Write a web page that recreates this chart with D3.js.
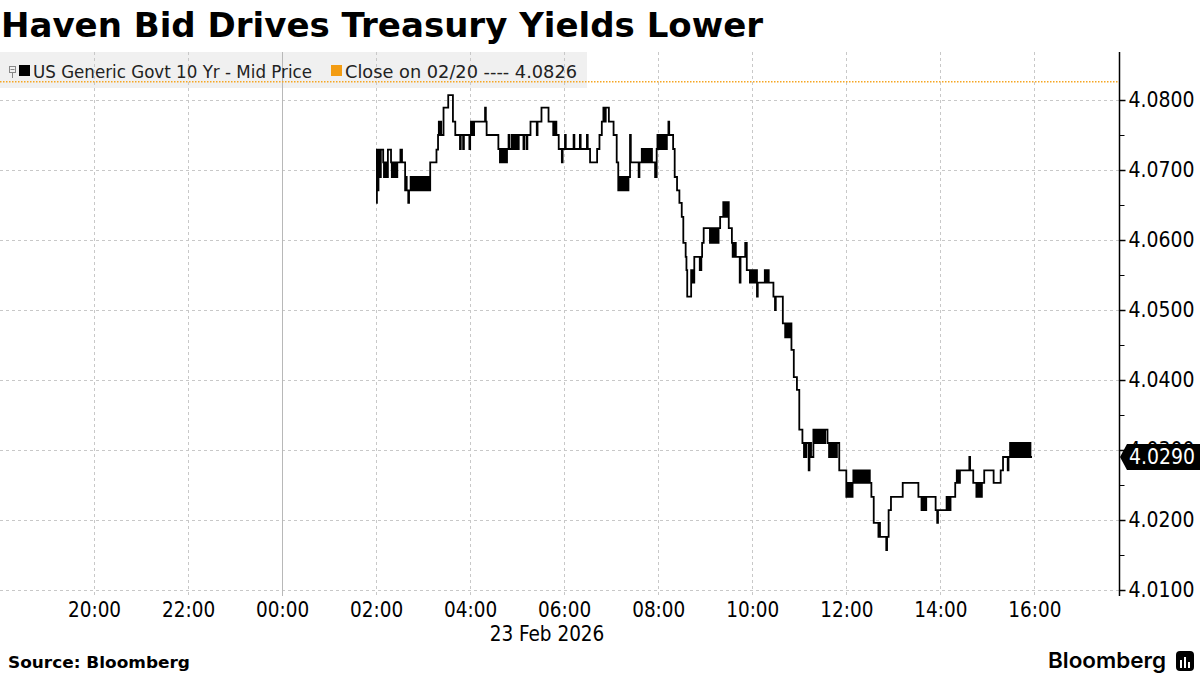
<!DOCTYPE html>
<html><head><meta charset="utf-8">
<script src="https://cdn.jsdelivr.net/npm/d3@7"></script>
<style>body{margin:0;background:#fff}svg{display:block}</style>
</head><body><svg id="c" width="1200" height="675"></svg>
<script>
const titleText = "Haven Bid Drives Treasury Yields Lower";
const seriesName = "US Generic Govt 10 Yr - Mid Price";
const closeLabel = "Close on 02/20 ---- 4.0826";
const closeValue = 4.0826;
const lastValue = 4.0290;
const sourceText = "Source: Bloomberg";
const dateLabel = "23 Feb 2026";
const yTicks = [4.01, 4.02, 4.03, 4.04, 4.05, 4.06, 4.07, 4.08];
const yMinorTicks = [4.015, 4.025, 4.035, 4.045, 4.055, 4.065, 4.075];
const xTickLabels = ["2026-02-22 20:00","2026-02-22 22:00","2026-02-23 00:00","2026-02-23 02:00","2026-02-23 04:00","2026-02-23 06:00","2026-02-23 08:00","2026-02-23 10:00","2026-02-23 12:00","2026-02-23 14:00","2026-02-23 16:00"];
const xDomain = ["2026-02-22 18:00", "2026-02-23 17:48"];

// times on 23 Feb 2026 and 10Y yield values
const times = ["02:00","02:01","02:02","02:03","02:05","02:06","02:09","02:10","02:11","02:12","02:13","02:14","02:15","02:19","02:20","02:21","02:22","02:23","02:24","02:25","02:26","02:27","02:31","02:33","02:37","02:38","02:39","02:41","02:42","02:44","02:45","02:47","02:48","02:50","02:51","02:53","02:55","02:57","02:58","03:00","03:02","03:04","03:05","03:07","03:08","03:09","03:17","03:19","03:20","03:21","03:22","03:23","03:26","03:32","03:38","03:41","03:47","03:48","03:51","03:52","03:59","04:00","04:01","04:02","04:03","04:04","04:05","04:19","04:20","04:21","04:36","04:38","04:39","04:40","04:42","04:43","04:45","04:46","04:47","04:49","04:50","04:53","04:54","04:56","04:57","04:59","05:00","05:02","05:08","05:09","05:12","05:13","05:17","05:25","05:26","05:31","05:40","05:46","05:47","05:48","05:49","05:50","05:53","05:57","05:58","06:01","06:02","06:12","06:13","06:20","06:21","06:29","06:30","06:33","06:42","06:45","06:48","06:50","06:52","06:53","06:57","07:03","07:07","07:09","07:10","07:11","07:13","07:14","07:16","07:17","07:19","07:20","07:22","07:24","07:25","07:35","07:36","07:39","07:40","07:42","07:43","07:45","07:46","07:48","07:49","07:51","07:52","07:56","07:58","07:59","08:00","08:02","08:03","08:05","08:06","08:08","08:09","08:11","08:13","08:14","08:19","08:21","08:24","08:27","08:30","08:32","08:35","08:36","08:37","08:42","08:43","08:44","08:45","08:46","08:53","08:55","08:56","08:58","09:06","09:07","09:09","09:10","09:12","09:13","09:15","09:17","09:19","09:23","09:25","09:26","09:28","09:29","09:30","09:34","09:35","09:36","09:37","09:38","09:39","09:44","09:45","09:51","09:53","09:57","09:58","10:00","10:01","10:03","10:04","10:06","10:07","10:16","10:17","10:18","10:19","10:20","10:21","10:27","10:29","10:30","10:39","10:42","10:43","10:44","10:46","10:47","10:48","10:50","10:53","10:57","11:00","11:04","11:06","11:07","11:08","11:09","11:12","11:13","11:15","11:18","11:19","11:21","11:22","11:24","11:26","11:27","11:29","11:30","11:32","11:33","11:36","11:38","11:39","11:41","11:42","11:44","11:45","11:47","11:48","11:51","12:00","12:01","12:02","12:03","12:04","12:05","12:06","12:08","12:09","12:11","12:13","12:14","12:16","12:18","12:20","12:22","12:24","12:26","12:28","12:30","12:32","12:35","12:41","12:42","12:43","12:51","12:52","12:54","12:57","13:12","13:32","13:36","13:37","13:38","13:40","13:41","13:42","13:54","13:56","13:57","14:08","14:09","14:11","14:12","14:13","14:19","14:21","14:22","14:23","14:24","14:25","14:37","14:38","14:42","14:46","14:47","14:49","14:50","14:52","14:53","14:56","15:08","15:17","15:20","15:26","15:27","15:29","15:30","15:31","15:33","15:34","15:36","15:38","15:40","15:42","15:44","15:46","15:48","15:50","15:52","15:53","15:55","15:57"];
const values = [4.0653,4.0729,4.0671,4.0729,4.0690,4.0729,4.0711,4.0690,4.0711,4.0690,4.0711,4.0690,4.0729,4.0711,4.0690,4.0711,4.0690,4.0711,4.0690,4.0711,4.0690,4.0711,4.0729,4.0711,4.0671,4.0690,4.0671,4.0653,4.0671,4.0690,4.0671,4.0690,4.0671,4.0690,4.0671,4.0690,4.0671,4.0690,4.0671,4.0690,4.0671,4.0690,4.0671,4.0690,4.0671,4.0711,4.0729,4.0750,4.0769,4.0750,4.0769,4.0750,4.0789,4.0807,4.0769,4.0750,4.0730,4.0750,4.0730,4.0750,4.0730,4.0750,4.0769,4.0750,4.0769,4.0750,4.0769,4.0789,4.0769,4.0750,4.0730,4.0711,4.0730,4.0711,4.0730,4.0711,4.0730,4.0711,4.0730,4.0750,4.0730,4.0750,4.0730,4.0750,4.0730,4.0750,4.0730,4.0750,4.0730,4.0750,4.0730,4.0750,4.0769,4.0750,4.0769,4.0789,4.0769,4.0750,4.0769,4.0750,4.0769,4.0750,4.0730,4.0711,4.0730,4.0750,4.0730,4.0750,4.0730,4.0750,4.0730,4.0750,4.0730,4.0711,4.0730,4.0750,4.0769,4.0789,4.0769,4.0789,4.0769,4.0750,4.0711,4.0671,4.0690,4.0671,4.0690,4.0671,4.0690,4.0671,4.0690,4.0671,4.0690,4.0750,4.0711,4.0690,4.0711,4.0730,4.0711,4.0730,4.0711,4.0730,4.0711,4.0730,4.0711,4.0730,4.0711,4.0690,4.0730,4.0750,4.0730,4.0750,4.0730,4.0750,4.0730,4.0750,4.0730,4.0750,4.0769,4.0750,4.0730,4.0690,4.0671,4.0653,4.0633,4.0596,4.0576,4.0557,4.0519,4.0557,4.0539,4.0557,4.0539,4.0576,4.0557,4.0576,4.0596,4.0617,4.0596,4.0617,4.0596,4.0617,4.0596,4.0617,4.0596,4.0617,4.0633,4.0654,4.0633,4.0654,4.0633,4.0654,4.0617,4.0596,4.0576,4.0596,4.0576,4.0596,4.0576,4.0539,4.0576,4.0596,4.0557,4.0539,4.0557,4.0539,4.0557,4.0539,4.0557,4.0519,4.0539,4.0557,4.0539,4.0557,4.0539,4.0557,4.0539,4.0519,4.0500,4.0519,4.0481,4.0461,4.0481,4.0461,4.0481,4.0461,4.0481,4.0443,4.0404,4.0386,4.0329,4.0310,4.0290,4.0310,4.0290,4.0310,4.0271,4.0310,4.0290,4.0329,4.0310,4.0329,4.0310,4.0329,4.0310,4.0329,4.0310,4.0329,4.0310,4.0329,4.0310,4.0290,4.0310,4.0290,4.0310,4.0290,4.0310,4.0290,4.0310,4.0271,4.0233,4.0253,4.0233,4.0253,4.0233,4.0253,4.0233,4.0253,4.0271,4.0253,4.0271,4.0253,4.0271,4.0253,4.0271,4.0253,4.0271,4.0253,4.0271,4.0253,4.0233,4.0196,4.0176,4.0196,4.0176,4.0157,4.0176,4.0214,4.0233,4.0253,4.0233,4.0214,4.0233,4.0214,4.0233,4.0214,4.0233,4.0214,4.0196,4.0214,4.0233,4.0214,4.0233,4.0214,4.0233,4.0253,4.0271,4.0253,4.0271,4.0253,4.0271,4.0290,4.0271,4.0253,4.0233,4.0253,4.0233,4.0253,4.0233,4.0253,4.0271,4.0253,4.0271,4.0290,4.0271,4.0290,4.0310,4.0290,4.0310,4.0290,4.0310,4.0290,4.0310,4.0290,4.0310,4.0290,4.0310,4.0290,4.0310,4.0290,4.0310,4.0290,4.0290];

const parse = d3.timeParse("%Y-%m-%d %H:%M");
const data = times.map((t, i) => ({t: parse("2026-02-23 " + t), v: values[i]}));

const svg = d3.select("#c");
const FONT = "'DejaVu Sans Condensed','DejaVu Sans',sans-serif";
const plotRight = 1119;

const x = d3.scaleTime().domain(xDomain.map(parse)).range([0, plotRight]);
const y = d3.scaleLinear().domain([4.01, 4.08]).range([590, 100]);
const plotTop = 52, plotBottom = 596;

svg.append("rect").attr("width", 1200).attr("height", 675).attr("fill", "#fff");

// title
svg.append("text").attr("x", 1).attr("y", 37).text(titleText)
  .attr("font-family", "'DejaVu Sans',sans-serif").attr("font-weight", "bold")
  .attr("font-size", 34).attr("textLength", 762).attr("lengthAdjust", "spacingAndGlyphs").attr("fill", "#000");

// legend band
svg.append("rect").attr("x", 0).attr("y", plotTop).attr("width", 587).attr("height", 36).attr("fill", "#f0f0f0");

// gridlines
const grid = svg.append("g");
grid.selectAll("line.h").data(yTicks).join("line")
  .attr("x1", 0).attr("x2", plotRight).attr("y1", d => Math.round(y(d)) + 0.5).attr("y2", d => Math.round(y(d)) + 0.5)
  .attr("stroke", "#c8c8c8").attr("stroke-dasharray", "3,3").attr("stroke-width", 1);
grid.selectAll("line.v").data(xTickLabels.map(parse)).join("line")
  .attr("x1", d => Math.round(x(d)) + 0.5).attr("x2", d => Math.round(x(d)) + 0.5)
  .attr("y1", plotTop).attr("y2", plotBottom)
  .attr("stroke", d => d.getHours() === 0 ? "#b8b8b8" : "#c8c8c8")
  .attr("stroke-dasharray", d => d.getHours() === 0 ? null : "3,3").attr("stroke-width", 1);

// legend items
const lg = svg.append("g");
lg.append("rect").attr("x", 9.5).attr("y", 66.5).attr("width", 6).attr("height", 6).attr("fill", "none").attr("stroke", "#888");
lg.append("line").attr("x1", 10.5).attr("x2", 14.5).attr("y1", 69.5).attr("y2", 69.5).attr("stroke", "#888");
lg.append("line").attr("x1", 12.5).attr("x2", 12.5).attr("y1", 73).attr("y2", 78).attr("stroke", "#888");
lg.append("rect").attr("x", 19).attr("y", 65).attr("width", 11).attr("height", 11).attr("fill", "#000");
lg.append("text").attr("x", 33).attr("y", 78).text(seriesName)
  .attr("font-family", FONT).attr("font-size", 17).attr("textLength", 279).attr("lengthAdjust", "spacingAndGlyphs").attr("fill", "#222");
lg.append("rect").attr("x", 331).attr("y", 65).attr("width", 11).attr("height", 11).attr("fill", "#f39c12");
lg.append("text").attr("x", 345).attr("y", 78).text(closeLabel)
  .attr("font-family", FONT).attr("font-size", 17).attr("textLength", 232).attr("lengthAdjust", "spacingAndGlyphs").attr("fill", "#222");

// close reference line
svg.append("line").attr("x1", 0).attr("x2", plotRight).attr("y1", y(closeValue)).attr("y2", y(closeValue))
  .attr("stroke", "#f5a623").attr("stroke-width", 1.5).attr("stroke-dasharray", "1.5,1.5");

// series
const line = d3.line().x(d => x(d.t)).y(d => y(d.v)).curve(d3.curveStepAfter);
svg.append("path").datum(data).attr("d", line).attr("fill", "none").attr("stroke", "#000").attr("stroke-width", 1.8);

// right axis
const yAxis = d3.axisRight(y).tickValues(yTicks).tickFormat(d3.format(".4f")).tickSize(6).tickPadding(3);
const ya = svg.append("g").attr("transform", `translate(${plotRight + 0.5},0)`).call(yAxis);
ya.select(".domain").remove();
ya.selectAll(".tick line").attr("stroke", "#000").attr("stroke-width", 1.5);
ya.selectAll(".tick text").attr("font-family", FONT).attr("font-size", 21).attr("fill", "#000")
  .attr("textLength", 66).attr("lengthAdjust", "spacingAndGlyphs");
const yMinor = d3.axisRight(y).tickValues(yMinorTicks).tickFormat("").tickSize(5);
const ym = svg.append("g").attr("transform", `translate(${plotRight + 0.5},0)`).call(yMinor);
ym.select(".domain").remove();
ym.selectAll(".tick line").attr("stroke", "#000").attr("stroke-width", 1);
svg.append("line").attr("x1", plotRight + 0.5).attr("x2", plotRight + 0.5).attr("y1", plotTop).attr("y2", plotBottom)
  .attr("stroke", "#000").attr("stroke-width", 1.5);

// last value marker
const ly = y(lastValue);
svg.append("path")
  .attr("d", `M${plotRight + 1},${ly} L${plotRight + 8},${ly - 13} L1200,${ly - 13} L1200,${ly + 13} L${plotRight + 8},${ly + 13} Z`)
  .attr("fill", "#000");
svg.append("text").attr("x", plotRight + 10).attr("y", ly).attr("dy", "0.35em").text(d3.format(".4f")(lastValue))
  .attr("font-family", FONT).attr("font-size", 21).attr("fill", "#fff")
  .attr("textLength", 66).attr("lengthAdjust", "spacingAndGlyphs");

// x axis
const xAxis = d3.axisBottom(x).tickValues(xTickLabels.map(parse)).tickFormat(d3.timeFormat("%H:%M")).tickSize(0).tickPadding(6);
const xa = svg.append("g").attr("transform", `translate(0,${plotBottom})`).call(xAxis);
xa.select(".domain").remove();
xa.selectAll(".tick text").attr("font-family", FONT).attr("font-size", 20.5).attr("fill", "#000");
svg.append("text").attr("x", 547).attr("y", 641).attr("text-anchor", "middle").text(dateLabel)
  .attr("font-family", FONT).attr("font-size", 20.5).attr("fill", "#000");

// footer
svg.append("text").attr("x", 8).attr("y", 668).text(sourceText)
  .attr("font-family", "'DejaVu Sans',sans-serif").attr("font-weight", "bold").attr("font-size", 15)
  .attr("textLength", 182).attr("lengthAdjust", "spacingAndGlyphs").attr("fill", "#000");
svg.append("text").attr("x", 1048).attr("y", 668).text("Bloomberg")
  .attr("font-family", "Inter,'Liberation Sans',sans-serif").attr("font-weight", "600").attr("font-size", 22)
  .attr("textLength", 118).attr("lengthAdjust", "spacingAndGlyphs").attr("fill", "#000");
const logo = svg.append("g").attr("transform", "translate(1176,651)");
logo.append("rect").attr("width", 18).attr("height", 20).attr("rx", 4).attr("fill", "#000");
logo.selectAll("rect.b").data([[4,9,2,8],[8,6,2,11],[12,11,2,6]]).join("rect")
  .attr("x", d => d[0]).attr("y", d => d[1]).attr("width", d => d[2]).attr("height", d => d[3]).attr("fill", "#fff");
</script></body></html>
